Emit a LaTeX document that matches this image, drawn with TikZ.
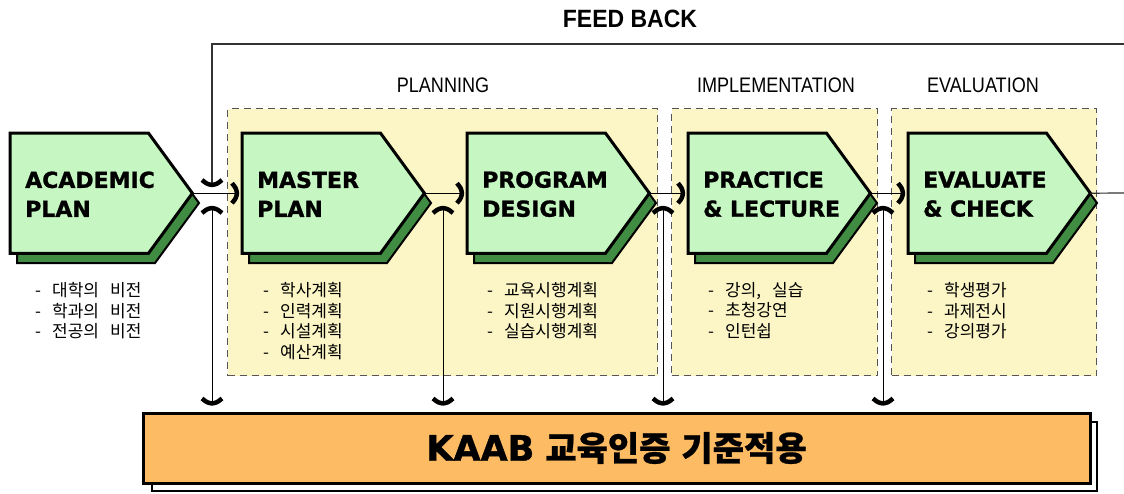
\documentclass[tikz,border=0pt]{standalone}
\usepackage{fontspec}
\usepackage{graphicx}
\usetikzlibrary{calc,decorations.markings}
\setmainfont{Liberation Sans}
\newfontfamily\kreg{Noto Sans CJK KR}
\IfFontExistsTF{Noto Sans CJK KR Black}{\newfontfamily\kheavy{Noto Sans CJK KR Black}[FakeBold=0.8]}{\newfontfamily\kheavy{Noto Sans CJK KR Bold}[FakeBold=1.5]}
\newfontfamily\heavy{DejaVu Sans}[FakeBold=1.2]
\definecolor{pgreen}{HTML}{C6F7C2}
\definecolor{dgreen}{HTML}{3F8C42}
\definecolor{ryellow}{HTML}{FCF6C6}
\definecolor{korange}{HTML}{FDBB63}
\definecolor{dashgray}{HTML}{555555}
\newcommand\di{\makebox[17pt][l]{-}}
\newcommand\stage[3]{%
  \fill[dgreen,draw=black,line width=2pt] ({#2+7},143) -- ++(138,0) -- ++(44,60) -- ++(-44,60) -- ++(-138,0) -- cycle;
  \node[stagebody,anchor=north west] (#1) at (#2,133) {};
  \draw[stageshape] (#1.north west) -- ($(#1.north east)+(-44,0)$) -- (#1.east) -- ($(#1.south east)+(-44,0)$) -- (#1.south west) -- cycle;
  \node[stagetext,anchor=west] (#1-t) at ($(#1.west)+(15,1)$) {#3};
}
\tikzset{
  barbpath/.style={draw=black,solid,line width=4.5pt,line cap=butt,line join=round},
  endbarb/.style={postaction={decorate,decoration={markings,mark=at position 1 with {\draw[barbpath] (-5pt,10pt) .. controls (-1pt,5pt) .. (0pt,0pt) .. controls (-1pt,-5pt) .. (-5pt,-10pt);}}}},
  startbarb/.style={postaction={decorate,decoration={markings,mark=at position 0 with {\draw[barbpath] (5pt,10pt) .. controls (1pt,5pt) .. (0pt,0pt) .. controls (1pt,-5pt) .. (5pt,-10pt);}}}},
  stagebody/.style={draw=none,minimum width=182pt,minimum height=120pt,inner sep=0pt},
  stageshape/.style={fill=pgreen,draw=black,line width=3pt},
  stagetext/.style={align=left,inner sep=0pt,font=\heavy\bfseries\fontsize{22}{29}\selectfont},
  region/.style={fill=ryellow,draw=dashgray,line width=1pt,dash pattern=on 7pt off 5pt,inner sep=0pt},
  regionlabel/.style={inner sep=0pt,font=\fontsize{21}{24}\selectfont},
  listtext/.style={align=left,inner sep=0pt,font={\kreg\fontsize{17}{20.7}\selectfont\spaceskip=11pt\relax}},
  hconn/.style={draw=black,line width=1pt,endbarb},
  vconn/.style={draw=black,line width=1pt,startbarb,endbarb},
  plainline/.style={draw=black!80,line width=1.2pt},
  kaabbox/.style={fill=korange,draw=black,line width=3pt,minimum width=947pt,minimum height=70pt,inner sep=0pt},
}
\begin{document}
\begin{tikzpicture}[x=1pt,y=-1pt]
\useasboundingbox (0,0) rectangle (1124,493);
\clip (0,0) rectangle (1124,493);
\fill[white] (0,0) rectangle (1124,493);

% regions
\node[region,anchor=north west,minimum width=430pt,minimum height=267pt] (rplan) at (227,108) {};
\node[region,anchor=north west,minimum width=206pt,minimum height=267pt] (rimpl) at (671,108) {};
\node[region,anchor=north west,minimum width=205pt,minimum height=267pt] (reval) at (891,108) {};
\node[regionlabel] (lplan) at (443,85) {\scalebox{0.86}[1]{PLANNING}};
\node[regionlabel] (limpl) at (776,85) {\scalebox{0.86}[1]{IMPLEMENTATION}};
\node[regionlabel] (leval) at (983,85) {\scalebox{0.86}[1]{EVALUATION}};
\node[inner sep=0pt,font=\bfseries\fontsize{25}{28}\selectfont] (fbt) at (630,19) {\scalebox{0.92}[1]{FEED BACK}};

% KAAB box
\draw[fill=white,draw=black,line width=2pt] (152,422) rectangle (1097,491);
\node[kaabbox] (kaab) at (616.5,448) {{\heavy\bfseries\fontsize{35}{38}\selectfont KAAB}\hspace{11pt}{\kheavy\fontsize{34}{38}\selectfont 교육인증\hspace{11pt}기준적용}};

% stages
\stage{ap}{10}{ACADEMIC\\PLAN}
\stage{mp}{242}{MASTER\\PLAN}
\stage{pd}{467}{PROGRAM\\DESIGN}
\stage{pl}{688}{PRACTICE\\\& LECTURE}
\stage{ec}{908}{EVALUATE\\\& CHECK}

% lists
\node[listtext,anchor=north west] (l1) at (35,282) {\di 대학의 비전\\\di 학과의 비전\\\di 전공의 비전};
\node[listtext,anchor=north west] (l2) at (263,282) {\di 학사계획\\\di 인력계획\\\di 시설계획\\\di 예산계획};
\node[listtext,anchor=north west] (l3) at (487,282) {\di 교육시행계획\\\di 지원시행계획\\\di 실습시행계획};
\node[listtext,anchor=north west] (l4) at (708,282) {\di 강의, 실습\\\di 초청강연\\\di 인턴쉽};
\node[listtext,anchor=north west] (l5) at (927,282) {\di 학생평가\\\di 과제전시\\\di 강의평가};

% horizontal connectors
\draw[hconn] (ap.east) -- ($(mp.west)+(-5,0)$);
\draw[hconn] (mp.east) -- ($(pd.west)+(-5,0)$);
\draw[hconn] (pd.east) -- ($(pl.west)+(-5,0)$);
\draw[hconn] (pl.east) -- ($(ec.west)+(-5,0)$);
\coordinate (fbR) at (1124,193);
\draw[plainline] (ec.east) -- (fbR);

% feedback line
\coordinate (fbTR) at (1124,44);
\coordinate (fbTL) at (212,44);
\coordinate (fbEnd) at (212,185);
\draw[plainline,endbarb] (fbTR) -- (fbTL) -- (fbEnd);

% vertical double connectors
\coordinate (v1) at (212,208);
\coordinate (v2) at (443,208);
\coordinate (v3) at (663,208);
\coordinate (v4) at (883,208);
\foreach \v in {v1,v2,v3,v4}{
  \draw[vconn] (\v) -- ($(\v |- kaab.north)+(0,-8)$);
}
\end{tikzpicture}
\end{document}
